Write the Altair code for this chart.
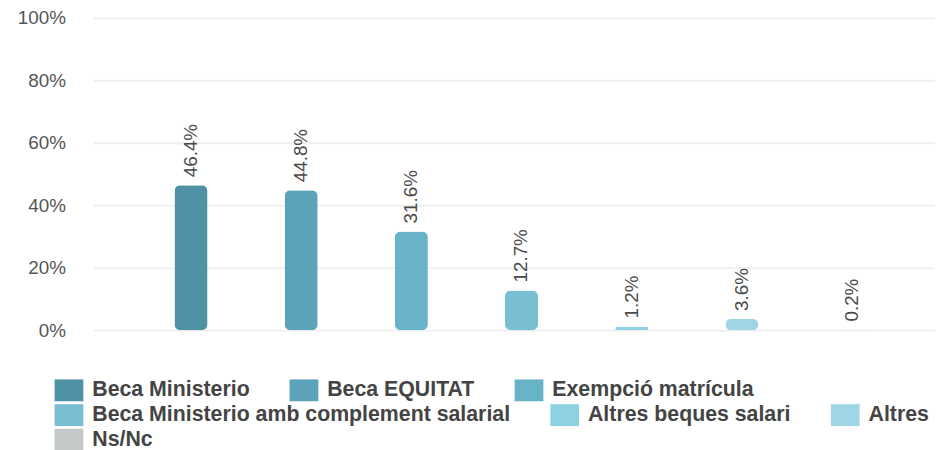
import altair as alt
import pandas as pd

categories = [
    "Beca Ministerio",
    "Beca EQUITAT",
    "Exempció matrícula",
    "Beca Ministerio amb complement salarial",
    "Altres beques salari",
    "Altres",
    "Ns/Nc",
]
values = [46.4, 44.8, 31.6, 12.7, 1.2, 3.6, 0.2]
colors = ["#4f92a5", "#5ba3b8", "#68b3c8", "#78bfd4", "#8dd1e3", "#9fd5e4", "#c4c8c9"]
legend_rows = [[0, 1, 2], [3, 4, 5], [6]]
y_ticks = [0, 20, 40, 60, 80, 100]

df = pd.DataFrame({"cat": categories, "val": values})
df["label"] = [f"{v:.1f}%" for v in values]

FONT = "Liberation Sans, Arial, sans-serif"

x = alt.X(
    "cat:N",
    sort=categories,
    axis=None,
    scale=alt.Scale(domain=categories, paddingInner=0.7, paddingOuter=0.67, align=0.55),
)
y_scale = alt.Scale(domain=[0, 100], nice=False)
y_axis = alt.Axis(
    values=y_ticks,
    labelExpr="datum.value + '%'",
    title=None,
    domain=False,
    ticks=False,
    tickSize=0,
    labelPadding=28,
    labelFontSize=19,
    labelFont=FONT,
    labelColor="#555555",
    gridColor="#efefef",
    gridWidth=2,
)

layers = []
for r, idx in enumerate(legend_rows):
    row_cats = [categories[i] for i in idx]
    row_cols = [colors[i] for i in idx]
    layer = (
        alt.Chart(df)
        .transform_filter(alt.FieldOneOfPredicate(field="cat", oneOf=row_cats))
        .mark_bar(cornerRadius=6)
        .encode(
            x=x,
            y=alt.Y("val:Q", scale=y_scale, axis=y_axis),
            color=alt.Color(
                "cat:N",
                sort=row_cats,
                scale=alt.Scale(domain=row_cats, range=row_cols),
                legend=alt.Legend(
                    title=None,
                    orient="none",
                    legendX=-39,
                    legendY=361 + 25 * r,
                    direction="horizontal",
                    columnPadding=40,
                    symbolType="M-1,-0.76H1V0.76H-1Z",
                    symbolSize=841,
                    symbolStrokeWidth=0,
                    symbolOpacity=1,
                    labelOffset=9,
                    labelFont=FONT,
                    labelFontSize=21.5,
                    labelFontWeight="bold",
                    labelColor="#444444",
                    labelLimit=600,
                    padding=0,
                ),
            ),
        )
    )
    layers.append(layer)

labels = alt.Chart(df).mark_text(
    angle=270,
    align="left",
    baseline="middle",
    dx=8,
    fontSize=19,
    font=FONT,
    color="#4a4a4a",
).encode(x=x, y=alt.Y("val:Q", scale=y_scale, axis=y_axis), text="label:N")

chart = (
    alt.layer(*layers, labels)
    .resolve_scale(color="independent")
    .properties(
        width=849,
        height=315,
        autosize=alt.AutoSizeParams(type="none"),
        padding={"left": 86, "top": 8, "right": 0, "bottom": 119},
    )
    .configure(font=FONT)
    .configure_view(strokeWidth=0, stroke="transparent")
)

chart.save("out.html", embed_options={"renderer": "svg", "actions": False})
